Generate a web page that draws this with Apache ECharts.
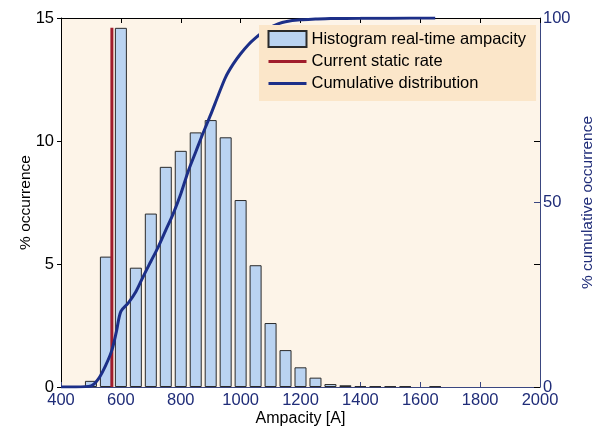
<!DOCTYPE html>
<html>
<head>
<meta charset="utf-8">
<script src="https://cdn.jsdelivr.net/npm/echarts@6/dist/echarts.min.js"></script>
<style>
html,body{margin:0;padding:0;background:#fff;}
#chart{width:605px;height:430px;}
</style>
</head>
<body>
<div id="chart"></div>
<script>
// Histogram bin centres (A) and % occurrence
const binCenters = [500, 550, 600, 650, 700, 750, 800, 850, 900, 950, 1000, 1050, 1100, 1150, 1200, 1250, 1300, 1350, 1400, 1450, 1500, 1550, 1650];
const occurrence = [0.25, 5.3, 14.6, 4.85, 7.05, 8.95, 9.6, 10.35, 10.85, 10.15, 7.6, 4.95, 2.6, 1.5, 0.8, 0.38, 0.12, 0.07, 0.04, 0.03, 0.03, 0.03, 0.03];

// Current static rate (A) and its drawn height
const staticRate = 570;
const staticRateTop = 14.6;

// Cumulative distribution (A, %)
const cumX = [400, 450, 500, 525, 550, 570, 585, 600, 625, 650, 675, 700, 725, 750, 775, 800, 825, 850, 875, 900, 925, 950, 975, 1000, 1025, 1050, 1075, 1100, 1125, 1150, 1200, 1250, 1300, 1400, 1500, 1650];
const cumY = [0, 0, 0.3, 2.2, 6, 10, 15, 20.5, 22.8, 25.8, 30, 34, 38, 42.5, 47, 52.3, 58.5, 63.7, 68.9, 73.8, 79, 84, 87.5, 90.3, 92.7, 94.6, 96.2, 97.5, 98.4, 99, 99.5, 99.7, 99.85, 99.9, 99.95, 100];

const xTicks = {min: 400, max: 2000, interval: 200};
const yLeftTicks = {min: 0, max: 15, interval: 5};
const yRightTicks = {min: 0, max: 100, interval: 50};

const names = ['Histogram real-time ampacity', 'Current static rate', 'Cumulative distribution'];

const navy = '#1f2c78';
const font = 'Liberation Sans, Arial, sans-serif';
const plain = v => String(v);

const chart = echarts.init(document.getElementById('chart'), null, {renderer: 'canvas'});
chart.setOption({
  animation: false,
  backgroundColor: '#ffffff',
  grid: {left: 61, right: 65, top: 18, bottom: 43, show: true, backgroundColor: '#fdf4e8', borderWidth: 0, containLabel: false, outerBoundsMode: 'none'},
  legend: {
    data: [
      {name: names[0], icon: 'rect'},
      {name: names[1], itemStyle: {opacity: 0}, lineStyle: {width: 3}},
      {name: names[2], itemStyle: {opacity: 0}, lineStyle: {width: 3}}
    ],
    orient: 'vertical',
    left: 259, top: 25,
    padding: [5, 10, 9, 8],
    itemWidth: 38, itemHeight: 16, itemGap: 5,
    backgroundColor: '#fbe6c9',
    textStyle: {fontFamily: font, fontSize: 16.5, color: '#000'},
    z: 10
  },
  xAxis: [{
    type: 'value', position: 'bottom', min: xTicks.min, max: xTicks.max, interval: xTicks.interval,
    name: 'Ampacity [A]', nameLocation: 'middle', nameGap: 24, nameMoveOverlap: false,
    nameTextStyle: {fontFamily: font, fontSize: 16, color: '#000'},
    axisLine: {show: true, onZero: false, lineStyle: {color: '#3a4680', width: 1}},
    axisTick: {show: true, inside: true, length: 5, lineStyle: {color: '#3a4680'}},
    axisLabel: {fontFamily: font, fontSize: 16.5, color: navy, margin: 5, formatter: plain},
    splitLine: {show: false}
  }, {
    type: 'value', position: 'top', min: xTicks.min, max: xTicks.max, interval: xTicks.interval,
    axisLine: {show: true, onZero: false, lineStyle: {color: '#000', width: 1}},
    axisTick: {show: true, inside: true, length: 5, lineStyle: {color: '#000'}},
    axisLabel: {show: false},
    splitLine: {show: false}
  }],
  yAxis: [{
    type: 'value', position: 'left', min: yLeftTicks.min, max: yLeftTicks.max, interval: yLeftTicks.interval,
    name: '% occurrence', nameLocation: 'middle', nameGap: 27, nameRotate: 90, nameMoveOverlap: false,
    nameTextStyle: {fontFamily: font, fontSize: 15.5, color: '#000'},
    axisLine: {show: true, onZero: false, lineStyle: {color: '#000', width: 1}},
    axisTick: {show: true, inside: false, length: 4, lineStyle: {color: '#000'}},
    axisLabel: {fontFamily: font, fontSize: 16.5, color: '#000', margin: 7, formatter: plain},
    splitLine: {show: false}
  }, {
    type: 'value', position: 'right', min: yRightTicks.min, max: yRightTicks.max, interval: yRightTicks.interval,
    name: '% cumulative occurrence', nameLocation: 'middle', nameGap: 40, nameRotate: 90, nameMoveOverlap: false,
    nameTextStyle: {fontFamily: font, fontSize: 15.5, color: navy},
    axisLine: {show: true, onZero: false, lineStyle: {color: '#3a4680', width: 1}},
    axisTick: {show: true, inside: true, length: 6, lineStyle: {color: '#3a4680'}},
    axisLabel: {fontFamily: font, fontSize: 16.5, color: navy, margin: 3, formatter: plain},
    splitLine: {show: false}
  }, {
    type: 'value', position: 'right', min: yLeftTicks.min, max: yLeftTicks.max, interval: yLeftTicks.interval,
    axisLine: {show: false},
    axisTick: {show: true, inside: true, length: 6, lineStyle: {color: '#000'}},
    axisLabel: {show: false},
    splitLine: {show: false}
  }],
  series: [{
    name: names[0], type: 'bar', xAxisIndex: 0, yAxisIndex: 0,
    data: binCenters.map((c, i) => [c, occurrence[i]]),
    barWidth: 12,
    itemStyle: {color: '#bad3f1', borderColor: '#2a2a2a', borderWidth: 1},
    z: 2
  }, {
    name: names[1], type: 'line', xAxisIndex: 0, yAxisIndex: 0,
    data: [[staticRate, 0], [staticRate, staticRateTop]],
    symbol: 'none',
    lineStyle: {color: '#a01d2c', width: 3},
    itemStyle: {color: '#a01d2c'},
    z: 3
  }, {
    name: names[2], type: 'line', xAxisIndex: 0, yAxisIndex: 1,
    data: cumX.map((x, i) => [x, cumY[i]]),
    symbol: 'none', smooth: 0.3,
    lineStyle: {color: '#1c2f88', width: 3},
    itemStyle: {color: '#1c2f88'},
    z: 4
  }]
});
</script>
</body>
</html>
